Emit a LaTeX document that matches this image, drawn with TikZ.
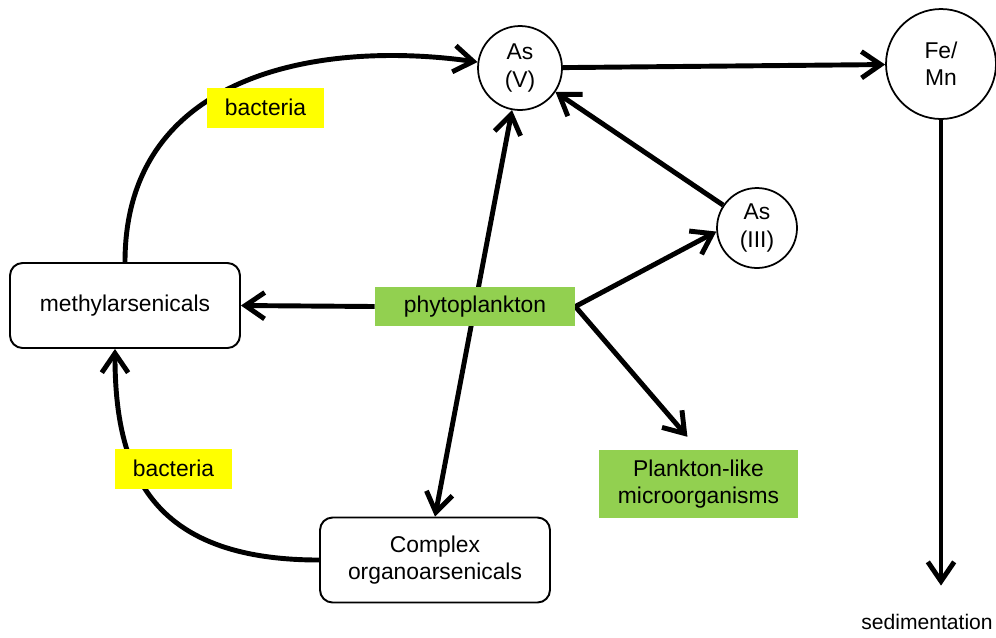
\documentclass[tikz,border=0pt]{standalone}
\usepackage{fontspec}
\setmainfont{Liberation Sans}
\usetikzlibrary{arrows.meta,backgrounds}

\definecolor{planktongreen}{HTML}{92D050}
\definecolor{labelyellow}{HTML}{FFFF00}

\tikzset{
  species/.style={circle,draw,line width=1pt,inner sep=0pt,align=center},
  pool/.style={rectangle,rounded corners=0.25cm,draw,line width=1.1pt,
    minimum width=4.6cm,minimum height=1.7cm,align=center},
  biota/.style={rectangle,fill=planktongreen,inner sep=0pt,align=center},
  microbe/.style={rectangle,fill=labelyellow,inner sep=0pt,
    minimum width=2.34cm,minimum height=0.8cm},
  flow/.style={line width=2.8pt,>={Straight Barb[length=11pt,width=15pt]},->},
}

\begin{document}
\begin{tikzpicture}[x=0.02cm,y=-0.02cm,font=\fontsize{13}{15.5}\selectfont]
        \useasboundingbox (0,0) rectangle (996,637);

        \begin{scope}[every node/.style={species}]
          \node[minimum size=1.68cm] (asV)   at (520,68)  {As\\(V)};
          \node[minimum size=1.6cm]  (asIII) at (757,228) {As\\(III)};
          \node[minimum size=2.2cm]  (femn)  at (941,64)  {Fe/\\Mn};
        \end{scope}

        \node[pool] (methyl) at (125,305.5) {methylarsenicals};
        \node[pool] (cplx)   at (435,560)   {Complex\\organoarsenicals};

        \node[biota,minimum width=4cm,minimum height=0.78cm]     (phyto) at (475,306.5) {phytoplankton};
        \node[biota,minimum width=3.98cm,minimum height=1.36cm]  (plank) at (698.5,484) {Plankton-like\\microorganisms};

        \node[microbe] (bactTop) at (265.5,107.5) {bacteria};
        \node[microbe] (bactLow) at (173.5,468.5) {bacteria};

        \node[font=\fontsize{12}{14}\selectfont] (sedim) at (927,622) {sedimentation};

        \begin{scope}[on background layer,every edge/.style={draw,flow}]
          \path (asV)         edge (femn);
          \path (femn)        edge[shorten >=0.45cm] (femn |- sedim.north);
          \path (asIII)       edge (asV);
          \path (phyto.east)  edge (asIII.185);
          \path (phyto.east)  edge[shorten >=0.34cm] (plank.north);
          \path (phyto.west)  edge (methyl.east);
          \path (asV)         edge[<->] (cplx.north);
          \path (methyl.north) edge[out=90,in=172,out distance=3.8cm,in distance=3.15cm] (asV);
          \path (cplx.west)   edge[out=180,in=270,out distance=3.4cm,in distance=2.4cm] (methyl.-103);
        \end{scope}

      \end{tikzpicture}
\end{document}
